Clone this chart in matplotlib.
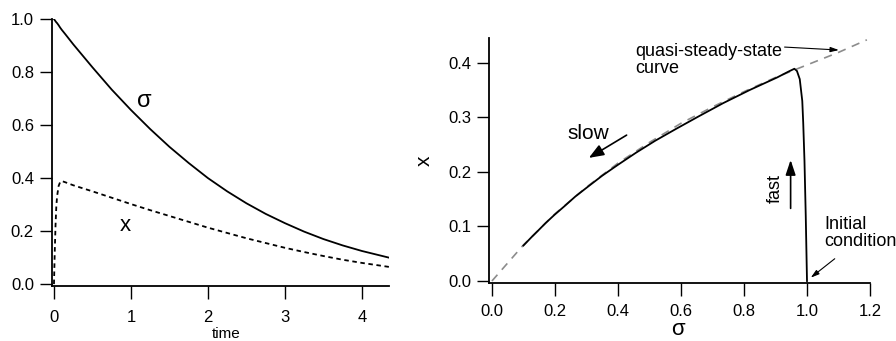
import matplotlib
matplotlib.use("Agg")
import matplotlib.pyplot as plt

plt.rcParams["font.family"] = ["Liberation Sans", "DejaVu Sans"]

# time course
t = [0.0, 0.005, 0.01, 0.02, 0.03, 0.04, 0.06, 0.08, 0.1, 0.15, 0.25, 0.5, 0.75,
     1.0, 1.25, 1.5, 1.75, 2.0, 2.25, 2.5, 2.75, 3.0, 3.25, 3.5, 3.75, 4.0, 4.35]
sigma = [1.0, 0.998, 0.996, 0.992, 0.988, 0.985, 0.977, 0.968, 0.960, 0.942, 0.905, 0.818, 0.734,
         0.657, 0.585, 0.518, 0.457, 0.40, 0.35, 0.305, 0.265, 0.23, 0.198, 0.17, 0.146, 0.125, 0.10]
x = [0.0, 0.06, 0.12, 0.22, 0.29, 0.33, 0.37, 0.385, 0.389, 0.384, 0.373, 0.35, 0.326,
     0.302, 0.279, 0.257, 0.235, 0.213, 0.193, 0.173, 0.155, 0.137, 0.121, 0.106, 0.092, 0.08, 0.065]

# quasi-steady-state curve (right panel, gray dashed)
qss_sigma = [0.0, 0.1, 0.2, 0.3, 0.4, 0.5, 0.6, 0.7, 0.8, 0.9, 1.0, 1.1, 1.19]
qss_x = [0.0, 0.066, 0.123, 0.172, 0.216, 0.254, 0.289, 0.319, 0.347, 0.373, 0.396, 0.419, 0.442]

left_xticks = [0, 1, 2, 3, 4]
left_yticks = [0.0, 0.2, 0.4, 0.6, 0.8, 1.0]
right_xticks = [0.0, 0.2, 0.4, 0.6, 0.8, 1.0, 1.2]
right_yticks = [0.0, 0.1, 0.2, 0.3, 0.4]

fig = plt.figure(figsize=(8.96, 3.41), dpi=100)
ax1 = fig.add_axes([0.058, 0.161, 0.376, 0.783])
ax2 = fig.add_axes([0.546, 0.170, 0.425, 0.718])

for ax in (ax1, ax2):
    ax.spines["top"].set_visible(False)
    ax.spines["right"].set_visible(False)
    for s in ("left", "bottom"):
        ax.spines[s].set_linewidth(1.3)
    ax.tick_params(direction="out", length=9, width=1.0, labelsize=12)
    ax.tick_params(axis="y", pad=4)
ax1.tick_params(axis="x", pad=8)
ax2.tick_params(axis="x", pad=6)

# left panel
ax1.plot(t, sigma, "-", color="black", lw=1.3)
ax1.plot(t, x, color="black", lw=1.3, linestyle=(0, (2.5, 2)))
ax1.set_xlim(-0.026, 4.35)
ax1.set_ylim(-0.0075, 1.0)
ax1.set_xticks(left_xticks)
ax1.set_xticklabels([str(v) for v in left_xticks])
ax1.set_yticks(left_yticks)
ax1.set_yticklabels(["%.1f" % v for v in left_yticks])
ax1.set_xlabel("time", fontsize=11, va="center")
ax1.xaxis.set_label_coords(0.516, -0.18)
ax1.text(1.17, 0.69, "σ", fontsize=17, ha="center", va="center")
ax1.text(0.93, 0.22, "x", fontsize=16, ha="center", va="center")

# right panel
ax2.plot(qss_sigma, qss_x, color="#8c8c8c", lw=1.2, linestyle=(0, (5, 4)))
ax2.plot(sigma, x, "-", color="black", lw=1.3)
ax2.set_xlim(-0.0086, 1.2)
ax2.set_ylim(-0.0037, 0.445)
ax2.set_xticks(right_xticks)
ax2.set_xticklabels(["%.1f" % v for v in right_xticks])
ax2.set_yticks(right_yticks)
ax2.set_yticklabels(["%.1f" % v for v in right_yticks])
ax2.set_xlabel("σ", fontsize=16, va="center")
ax2.xaxis.set_label_coords(0.496, -0.19)
ax2.set_ylabel("x", fontsize=15, labelpad=10)

ax2.text(0.305, 0.27, "slow", fontsize=15, ha="center", va="center")
ax2.annotate("", xy=(0.30, 0.223), xytext=(0.435, 0.27),
             arrowprops=dict(arrowstyle="-|>,head_length=0.9,head_width=0.35", color="black", lw=1.2))
ax2.text(0.90, 0.17, "fast", fontsize=13, ha="center", va="center", rotation=90)
ax2.annotate("", xy=(0.948, 0.227), xytext=(0.948, 0.128),
             arrowprops=dict(arrowstyle="-|>,head_length=0.9,head_width=0.3", color="black", lw=1.2))

ax2.text(0.456, 0.436, "quasi-steady-state\ncurve", fontsize=13, ha="left", va="top", linespacing=1.0)
ax2.annotate("", xy=(1.11, 0.423), xytext=(0.92, 0.429),
             arrowprops=dict(arrowstyle="-|>,head_length=0.5,head_width=0.15", color="black", lw=0.8))
ax2.text(1.055, 0.119, "Initial\ncondition", fontsize=13, ha="left", va="top", linespacing=1.0)
ax2.annotate("", xy=(1.005, 0.003), xytext=(1.095, 0.044),
             arrowprops=dict(arrowstyle="-|>,head_length=0.5,head_width=0.15", color="black", lw=0.8))

fig.savefig("out.png", dpi=100)
